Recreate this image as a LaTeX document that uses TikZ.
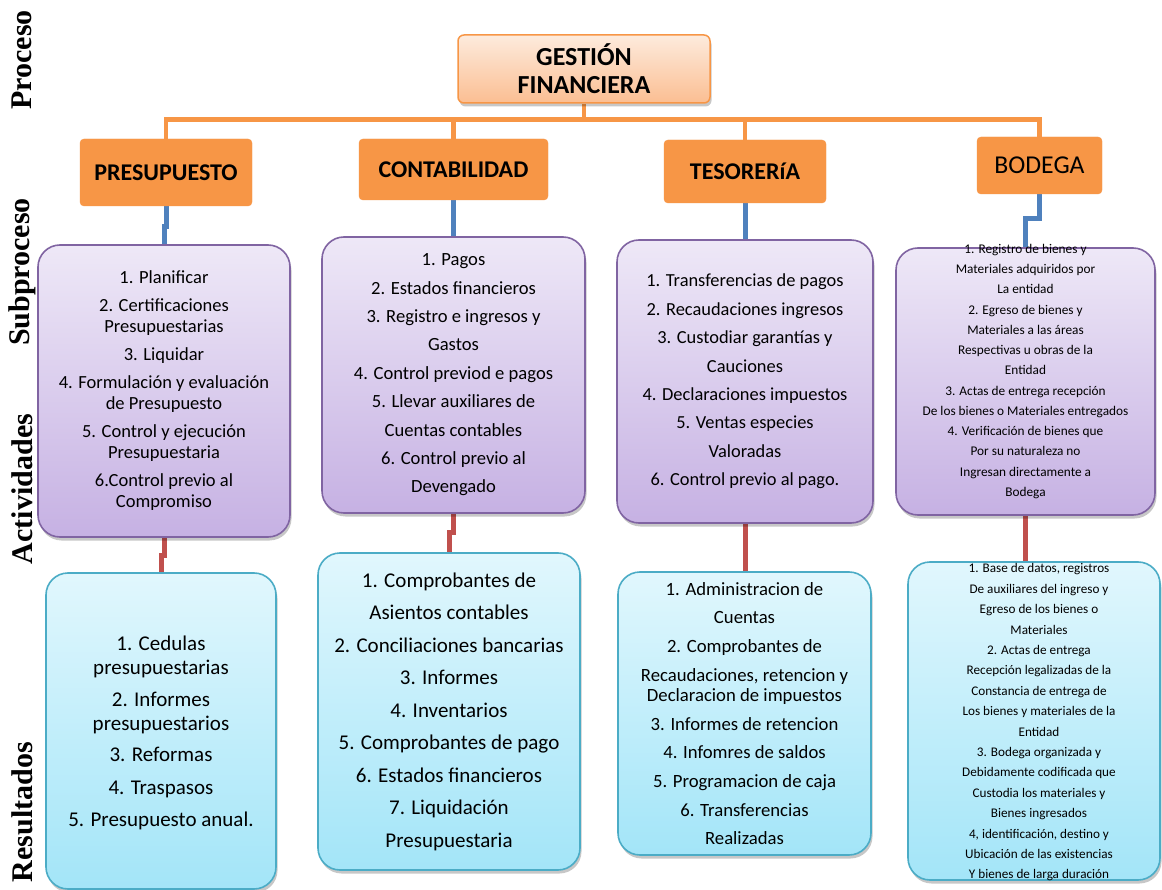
\documentclass[tikz,border=0pt]{standalone}
\usepackage{fontspec}
\setmainfont{Carlito}
\newfontfamily\sidefont{Liberation Serif}
\usetikzlibrary{shadows}
\pgfdeclarelayer{background}
\pgfsetlayers{background,main}

\definecolor{accOrange}{HTML}{F79646}
\definecolor{accBlue}{HTML}{4F81BD}
\definecolor{accRed}{HTML}{C0504D}
\definecolor{purpLine}{HTML}{8064A2}
\definecolor{purpTop}{HTML}{EEE8F7}
\definecolor{purpBot}{HTML}{C6B1E3}
\definecolor{cyanLine}{HTML}{4BACC6}
\definecolor{cyanTop}{HTML}{E1F7FD}
\definecolor{cyanBot}{HTML}{A3E5F8}
\definecolor{peachTop}{HTML}{FDEBDD}
\definecolor{peachBot}{HTML}{FBBE92}

\begin{document}
\begin{tikzpicture}[x=1pt,y=-1pt,
  softshadow/.style={drop shadow={shadow xshift=1.5pt,shadow yshift=-3.5pt,fill=black,opacity=0.22}},
  headbox/.style={draw=accOrange, line width=1.5pt, rounded corners=6pt,
    top color=peachTop, bottom color=peachBot, softshadow, align=center,
    font=\fontsize{26}{28}\selectfont\bfseries, inner sep=0pt},
  subbox/.style={fill=accOrange, draw=accOrange, rounded corners=4pt, inner sep=0pt},
  actbox/.style={draw=purpLine, line width=1.6pt, rounded corners=22pt,
    top color=purpTop, bottom color=purpBot, softshadow, inner sep=0pt},
  resbox/.style={draw=cyanLine, line width=1.6pt, rounded corners=22pt,
    top color=cyanTop, bottom color=cyanBot, softshadow, inner sep=0pt},
  boxtext/.style={align=center, inner sep=0pt},
  treeline/.style={draw=accOrange, line width=4.5pt},
  upline/.style={draw=accBlue, line width=5pt},
  downline/.style={draw=accRed, line width=5pt},
  sidelabel/.style={rotate=90, inner sep=0pt,
    font=\sidefont\bfseries\fontsize{30}{30}\selectfont}
]
\useasboundingbox (0,0) rectangle (1162,890);

% row labels
\node[sidelabel] (lproc) at (22,60)  {Proceso};
\node[sidelabel] (lsub)  at (22,272) {Subproceso};
\node[sidelabel] (lact)  at (22,489) {Actividades};
\node[sidelabel] (lres)  at (22,812) {Resultados};

% process
\node[headbox, minimum width=252pt, minimum height=68pt] (gf) at (584,69) {GESTIÓN\\FINANCIERA};

% subprocesses
\node[subbox, minimum width=172pt, minimum height=67pt,
  font=\fontsize{24}{26}\selectfont\bfseries] (pre) at (166,172.5) {PRESUPUESTO};
\node[subbox, minimum width=189pt, minimum height=61pt,
  font=\fontsize{24}{26}\selectfont\bfseries] (cont) at (453.5,169.5) {CONTABILIDAD};
\node[subbox, minimum width=162pt, minimum height=63pt,
  font=\fontsize{24}{26}\selectfont\bfseries] (teso) at (745,171.5) {TESORERíA};
\node[subbox, minimum width=125pt, minimum height=57pt,
  font=\fontsize{25.7}{28}\selectfont] (bod) at (1039.5,165.5) {BODEGA};

% activity boxes
\node[actbox, minimum width=252pt, minimum height=292pt] (p1) at (164,391) {};
\node[actbox, minimum width=263pt, minimum height=276pt] (p2) at (453.5,375) {};
\node[actbox, minimum width=256pt, minimum height=283pt] (p3) at (745,381.5) {};
\node[actbox, minimum width=259pt, minimum height=267pt] (p4) at (1025.5,381.5) {};

% result boxes
\node[resbox, minimum width=230pt, minimum height=316pt] (c1) at (161,731) {};
\node[resbox, minimum width=262pt, minimum height=317pt] (c2) at (449,711.5) {};
\node[resbox, minimum width=253pt, minimum height=283pt] (c3) at (744.5,713.5) {};
\node[resbox, minimum width=252pt, minimum height=318pt] (c4) at (1034,721) {};

% activity texts
\node[boxtext, font=\fontsize{18.5}{21}\selectfont] (p1t) at (p1) {%
  1. Planificar\\[7pt]
  2. Certificaciones\\Presupuestarias\\[7pt]
  3. Liquidar\\[7pt]
  4. Formulación y evaluación\\de Presupuesto\\[7pt]
  5. Control y ejecución\\Presupuestaria\\[7pt]
  6.Control previo al\\Compromiso};
\node[boxtext, font=\fontsize{18.6}{28.4}\selectfont] (p2t) at (p2) {%
  1. Pagos\\2. Estados financieros\\3. Registro e ingresos y\\Gastos\\
  4. Control previod e pagos\\5. Llevar auxiliares de\\Cuentas contables\\
  6. Control previo al\\Devengado};
\node[boxtext, font=\fontsize{18.4}{28.4}\selectfont] (p3t) at (p3) {%
  1. Transferencias de pagos\\2. Recaudaciones ingresos\\
  3. Custodiar garantías y\\Cauciones\\4. Declaraciones impuestos\\
  5. Ventas especies\\Valoradas\\6. Control previo al pago.};
\node[boxtext, font=\fontsize{13.3}{20.25}\selectfont] (p4t) at ([yshift=10pt]p4.center) {%
  1. Registro de bienes y\\Materiales adquiridos por\\La entidad\\
  2. Egreso de bienes y\\Materiales a las áreas\\Respectivas u obras de la\\Entidad\\
  3. Actas de entrega recepción\\De los bienes o Materiales entregados\\
  4. Verificación de bienes que\\Por su naturaleza no\\Ingresan directamente a\\Bodega};

% result texts
\node[boxtext, font=\fontsize{21}{23.5}\selectfont] (c1t) at ([yshift=-2pt]c1.center) {%
  1. Cedulas\\presupuestarias\\[9pt]
  2. Informes\\presupuestarios\\[8pt]
  3. Reformas\\[9pt]
  4. Traspasos\\[9pt]
  5. Presupuesto anual.};
\node[boxtext, font=\fontsize{21}{32.5}\selectfont] (c2t) at (c2) {%
  1. Comprobantes de\\Asientos contables\\2. Conciliaciones bancarias\\
  3. Informes\\4. Inventarios\\5. Comprobantes de pago\\6. Estados financieros\\
  7. Liquidación\\Presupuestaria};
\node[boxtext, font=\fontsize{18.7}{28.7}\selectfont] (c3t) at (c3) {%
  1. Administracion de\\Cuentas\\2. Comprobantes de\\
  Recaudaciones, retencion y\\[-8.5pt]Declaracion de impuestos\\
  3. Informes de retencion\\4. Infomres de saldos\\5. Programacion de caja\\
  6. Transferencias\\Realizadas};
\node[boxtext, font=\fontsize{13.2}{20.4}\selectfont] (c4t) at ([xshift=5pt,yshift=-1.5pt]c4.center) {%
  1. Base de datos, registros\\De auxiliares del ingreso y\\Egreso de los bienes o\\Materiales\\
  2. Actas de entrega\\Recepción legalizadas de la\\Constancia de entrega de\\
  Los bienes y materiales de la\\Entidad\\
  3. Bodega organizada y\\Debidamente codificada que\\Custodia los materiales y\\Bienes ingresados\\
  4, identificación, destino y\\Ubicación de las existencias\\Y bienes de larga duración};

% white page and connectors underneath the boxes
\begin{pgfonlayer}{background}
  \fill[white] (0,0) rectangle (1162,890);
  \draw[treeline] (gf.south) -- ++(0,16) coordinate (bus);
  \draw[treeline] (bus) -| (pre.north);
  \draw[treeline] (bus) -| (cont.north);
  \draw[treeline] (bus) -| (teso.north);
  \draw[treeline] (bus) -| (bod.north);

  \draw[upline] (pre.south) -- ++(0,20) -| (p1.north);
  \draw[upline] (cont.south) -- (p2.north);
  \draw[upline] (teso.south) -- (p3.north);
  \draw[upline] (bod.south) -- ++(0,24) -| (p4.north);

  \draw[downline] (p1.south) -- ++(0,18) -| (c1.north);
  \draw[downline] (p2.south) -- ++(0,19) -| (c2.north);
  \draw[downline] (p3.south) -- (p3.south |- c3.north);
  \draw[downline] (p4.south) -- (p4.south |- c4.north);
\end{pgfonlayer}
\end{tikzpicture}
\end{document}
